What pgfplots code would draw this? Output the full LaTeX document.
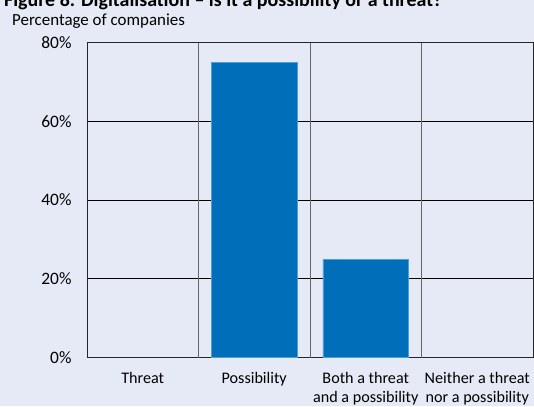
\documentclass[border=0pt]{standalone}
\usepackage{pgfplots}
\pgfplotsset{compat=1.18}
\usepackage{fontspec}
\setmainfont{Carlito}
\definecolor{bg}{HTML}{E5EAF6}
\definecolor{barblue}{HTML}{006EB8}
\definecolor{baredge}{HTML}{4A9EDC}
\begin{document}
\begin{tikzpicture}[x=1bp,y=1bp]
\fill[bg] (-87,-48.5) rectangle (447,372);
\begin{axis}[
  at={(0,0)}, anchor=south west,
  scale only axis, width=446bp, height=315bp,
  xmin=-0.5, xmax=3.5, ymin=0, ymax=80,
  axis background/.style={fill=bg},
  xtick={0,1,2,3},
  xticklabels={Threat,Possibility,{Both a threat\\and a possibility},{Neither a threat\\nor a possibility}},
  xticklabel style={align=center, font=\fontsize{16.2}{19}\selectfont, yshift=-11bp},
  extra x ticks={0.5,1.5,2.5},
  extra x tick labels={},
  extra x tick style={grid=major, major grid style={color=black!60, line width=1pt}, major tick length=0pt},
  ytick={0,20,40,60,80},
  yticklabel={\pgfmathprintnumber{\tick}\%},
  yticklabel style={font=\fontsize{17.5}{20}\selectfont, xshift=-12bp},
  /pgf/number format/assume math mode=true,
  ymajorgrids, major grid style={black, line width=0.8pt},
  major tick length=0pt,
  axis line style={black!85, line width=1pt},
  ybar, bar width=0.77,
]
\addplot[fill=barblue, draw=baredge, line width=0.6pt] coordinates {(1,75) (2,25)};
\end{axis}
\node[anchor=base west, inner sep=0, font=\fontsize{20}{22}\selectfont\bfseries] at (-83,351) {Figure 8. Digitalisation – is it a possibility or a threat?};
\node[anchor=base west, inner sep=0, font=\fontsize{17}{20}\selectfont] at (-75,332) {Percentage of companies};
\pgfresetboundingbox
\useasboundingbox (-87,-48.5) rectangle (447,357.5);
\end{tikzpicture}
\end{document}
